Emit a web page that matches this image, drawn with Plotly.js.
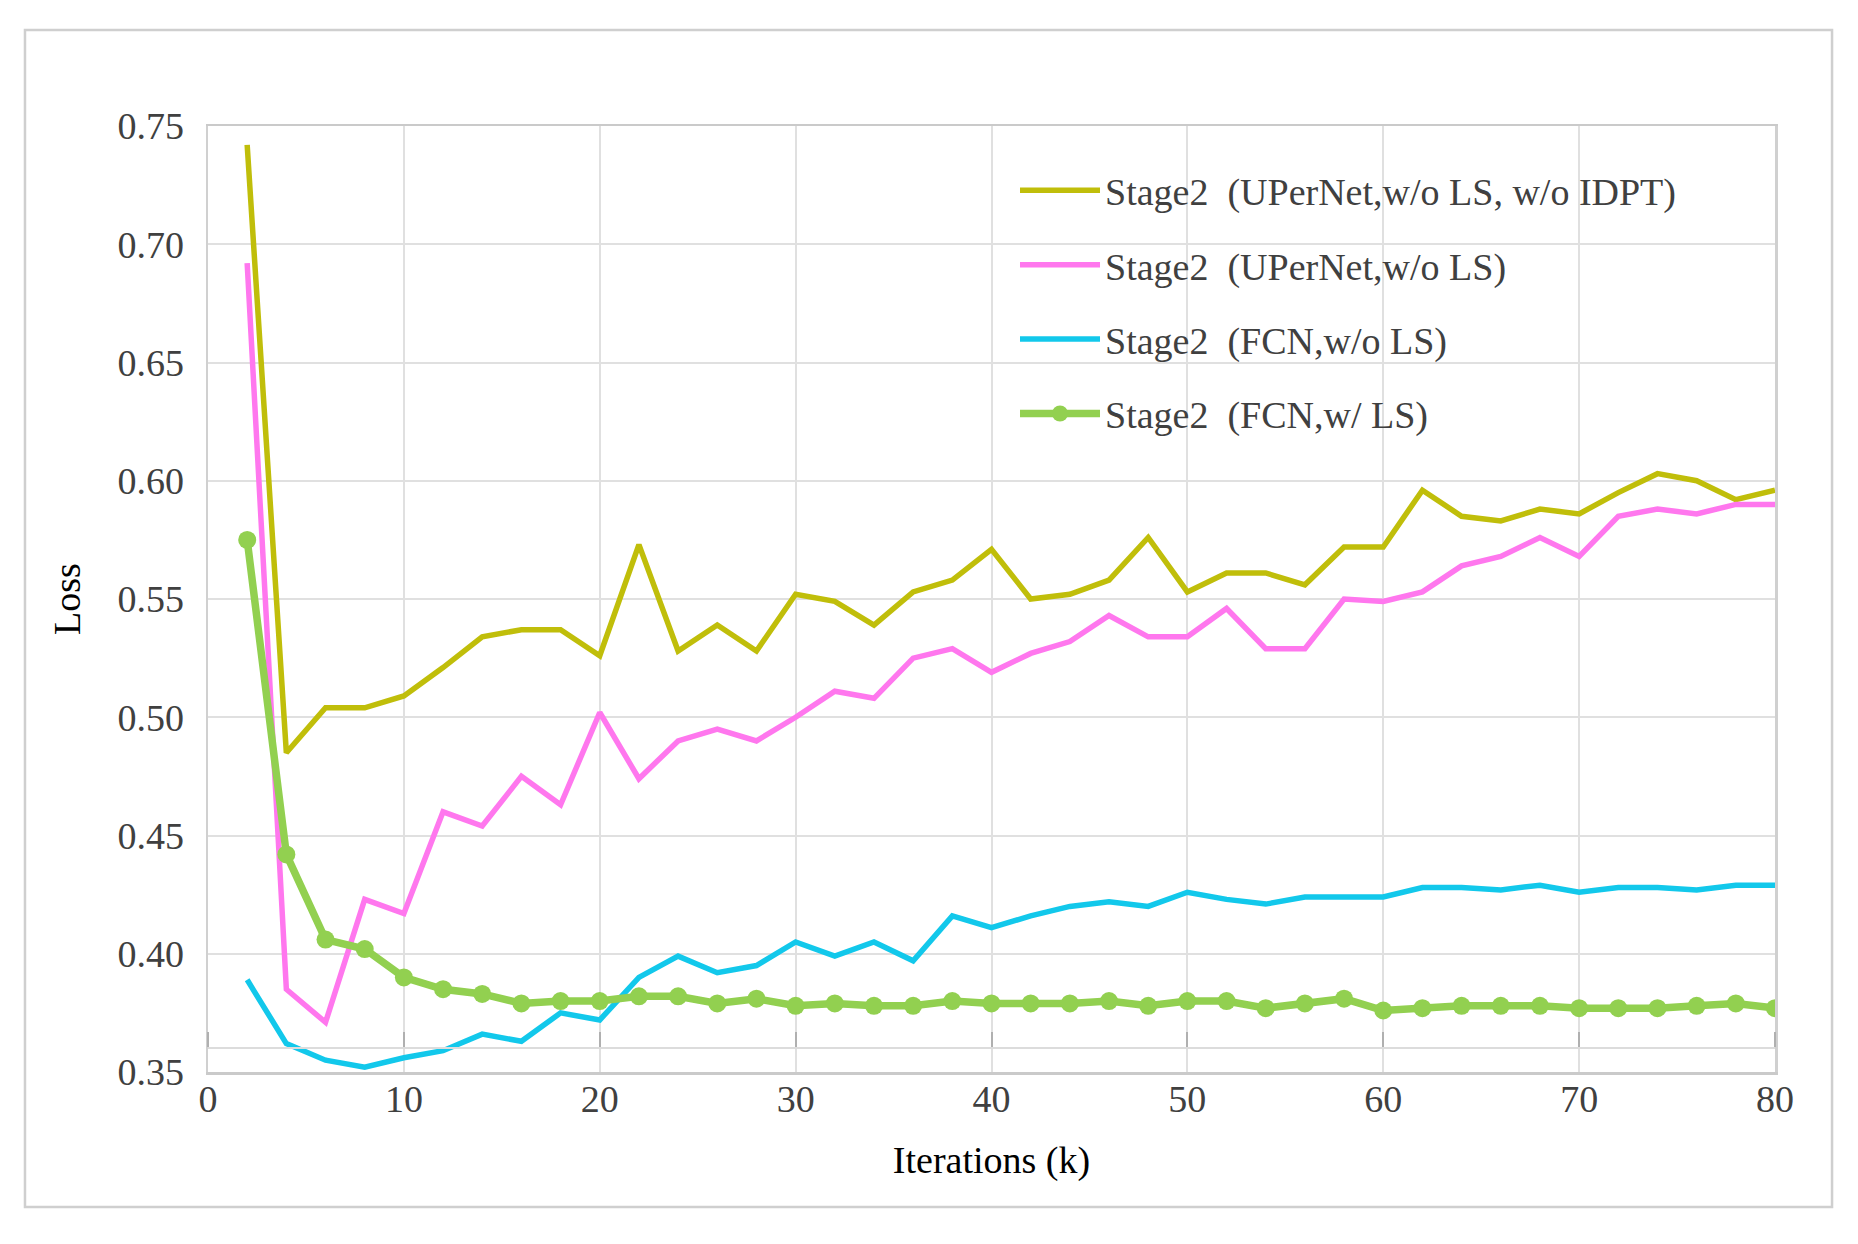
<!DOCTYPE html>
<html>
<head>
<meta charset="utf-8">
<script src="https://cdn.plot.ly/plotly-3.0.1.min.js"></script>
<style>
  html, body { margin: 0; padding: 0; background: #ffffff; }
  #chart { width: 1858px; height: 1244px; }
</style>
</head>
<body>
<div id="chart"></div>
<script>
// Iterations (k)
var iterations = [2, 4, 6, 8, 10, 12, 14, 16, 18, 20,
                  22, 24, 26, 28, 30, 32, 34, 36, 38, 40,
                  42, 44, 46, 48, 50, 52, 54, 56, 58, 60,
                  62, 64, 66, 68, 70, 72, 74, 76, 78, 80];

var seriesNames = [
  "Stage2\u00a0 (UPerNet,w/o LS, w/o IDPT)",
  "Stage2\u00a0 (UPerNet,w/o LS)",
  "Stage2\u00a0 (FCN,w/o LS)",
  "Stage2\u00a0 (FCN,w/ LS)"
];

var upernetNoLsNoIdpt = [0.742, 0.485, 0.504, 0.504, 0.509, 0.521, 0.534, 0.537, 0.537, 0.526,
                         0.573, 0.528, 0.539, 0.528, 0.552, 0.549, 0.539, 0.553, 0.558, 0.571,
                         0.550, 0.552, 0.558, 0.576, 0.553, 0.561, 0.561, 0.556, 0.572, 0.572,
                         0.596, 0.585, 0.583, 0.588, 0.586, 0.595, 0.603, 0.600, 0.592, 0.596];

var upernetNoLs = [0.692, 0.385, 0.371, 0.423, 0.417, 0.460, 0.454, 0.475, 0.463, 0.502,
                   0.474, 0.490, 0.495, 0.490, 0.500, 0.511, 0.508, 0.525, 0.529, 0.519,
                   0.527, 0.532, 0.543, 0.534, 0.534, 0.546, 0.529, 0.529, 0.550, 0.549,
                   0.553, 0.564, 0.568, 0.576, 0.568, 0.585, 0.588, 0.586, 0.590, 0.590];

var fcnNoLs = [0.389, 0.362, 0.355, 0.352, 0.356, 0.359, 0.366, 0.363, 0.375, 0.372,
               0.390, 0.399, 0.392, 0.395, 0.405, 0.399, 0.405, 0.397, 0.416, 0.411,
               0.416, 0.420, 0.422, 0.420, 0.426, 0.423, 0.421, 0.424, 0.424, 0.424,
               0.428, 0.428, 0.427, 0.429, 0.426, 0.428, 0.428, 0.427, 0.429, 0.429];

var fcnLs = [0.575, 0.442, 0.406, 0.402, 0.390, 0.385, 0.383, 0.379, 0.380, 0.380,
             0.382, 0.382, 0.379, 0.381, 0.378, 0.379, 0.378, 0.378, 0.380, 0.379,
             0.379, 0.379, 0.380, 0.378, 0.380, 0.380, 0.377, 0.379, 0.381, 0.376,
             0.377, 0.378, 0.378, 0.378, 0.377, 0.377, 0.377, 0.378, 0.379, 0.377];

var xTickVals = [0, 10, 20, 30, 40, 50, 60, 70, 80];
var yTickVals = [0.35, 0.40, 0.45, 0.50, 0.55, 0.60, 0.65, 0.70, 0.75];

var FONT = "Liberation Serif, Times New Roman, serif";

var traces = [
  {x: iterations, y: upernetNoLsNoIdpt, name: seriesNames[0], legendgroup: "g1",
   type: "scatter", mode: "lines", line: {color: "#C0BE0A", width: 5.5}},
  {x: iterations, y: upernetNoLs, name: seriesNames[1], legendgroup: "g2",
   type: "scatter", mode: "lines", line: {color: "#FF77EE", width: 5.5}},
  {x: iterations, y: fcnNoLs, name: seriesNames[2], legendgroup: "g3",
   type: "scatter", mode: "lines", line: {color: "#12C8EB", width: 5.5}},
  {x: iterations, y: fcnLs, name: seriesNames[3], legendgroup: "g4",
   type: "scatter", mode: "lines+markers", line: {color: "#92D050", width: 7.5},
   marker: {color: "#92D050", size: 18, symbol: "circle"}},
  // empty helper so the secondary (tick-mark) axis at 0.36 is drawn
  {x: [], y: [], xaxis: "x2", yaxis: "y", type: "scatter", mode: "lines",
   showlegend: false, hoverinfo: "skip"}
];

var layout = {
  width: 1858,
  height: 1244,
  paper_bgcolor: "#ffffff",
  plot_bgcolor: "#ffffff",
  margin: {l: 208, r: 83, t: 126, b: 172},
  font: {family: FONT, size: 38, color: "#404040"},
  showlegend: true,
  legend: {
    x: 0.515, xanchor: "left",
    y: 0.965, yanchor: "top",
    bgcolor: "rgba(0,0,0,0)",
    borderwidth: 0,
    font: {family: FONT, size: 38, color: "#404040"},
    traceorder: "grouped",
    tracegroupgap: 22,
    itemwidth: 80
  },
  xaxis: {
    range: [0, 80],
    tickvals: xTickVals,
    ticktext: xTickVals.map(String),
    showgrid: true,
    gridcolor: "#e0e0e0",
    gridwidth: 2,
    zeroline: false,
    showline: true,
    linecolor: "#cacaca",
    linewidth: 2.5,
    mirror: true,
    ticks: "",
    ticklabelstandoff: -8,
    tickfont: {family: FONT, size: 38, color: "#404040"},
    title: {text: "Iterations (k)", font: {family: FONT, size: 38, color: "#000000"}, standoff: 28}
  },
  xaxis2: {
    overlaying: "x",
    anchor: "free",
    position: 0.025,
    side: "top",
    range: [0, 80],
    tickvals: xTickVals,
    showticklabels: false,
    ticks: "outside",
    ticklen: 15,
    tickwidth: 2,
    tickcolor: "#b0b0b0",
    showgrid: false,
    zeroline: false,
    showline: true,
    linecolor: "#dcdcdc",
    linewidth: 2
  },
  yaxis: {
    range: [0.35, 0.75],
    tickvals: yTickVals,
    tickformat: ".2f",
    showgrid: true,
    gridcolor: "#e0e0e0",
    gridwidth: 2,
    zeroline: false,
    showline: true,
    linecolor: "#d0d0d0",
    linewidth: 2.5,
    mirror: true,
    ticks: "",
    ticklabelstandoff: 14,
    tickfont: {family: FONT, size: 38, color: "#404040"},
    title: {text: "Loss", font: {family: FONT, size: 38, color: "#000000"}, standoff: 25}
  },
  shapes: [
    {type: "rect", xref: "paper", yref: "paper",
     x0: -0.1168, x1: 1.0364, y0: -0.1427, y1: 1.1015,
     line: {color: "#cfcfcf", width: 2.5}, fillcolor: "rgba(0,0,0,0)", layer: "below"}
  ]
};

Plotly.newPlot("chart", traces, layout, {displayModeBar: false, staticPlot: true});
</script>
</body>
</html>
